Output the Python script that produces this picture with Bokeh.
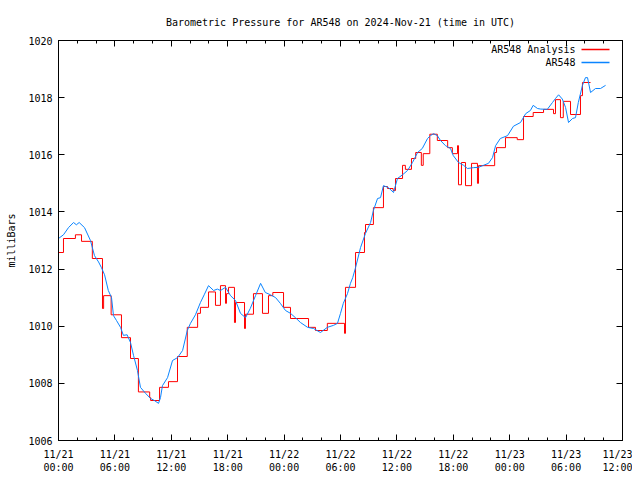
from bokeh.plotting import figure
from bokeh.models import Range1d, FixedTicker, LinearAxis, Label, Arrow
from bokeh.embed import file_html
from bokeh.resources import INLINE

FONT = "DejaVu Sans Mono"

title_text = "Barometric Pressure for AR548 on 2024-Nov-21 (time in UTC)"

# x axis: hours since 2024-11-21 00:00 UTC
tick_hours = [0, 6, 12, 18, 24, 30, 36, 42, 48, 54, 60]
tick_labels = ["11/21\n00:00", "11/21\n06:00", "11/21\n12:00", "11/21\n18:00",
               "11/22\n00:00", "11/22\n06:00", "11/22\n12:00", "11/22\n18:00",
               "11/23\n00:00", "11/23\n06:00", "11/23\n12:00"]
minor_hours = [h for h in range(0, 61, 2) if h % 6 != 0]
y_ticks = [1006, 1008, 1010, 1012, 1014, 1016, 1018, 1020]

# AR548 Analysis (red, stepped)
red_hours = [0.0, 0.53, 1.8, 2.45, 3.6, 4.68, 4.8, 5.6, 6.7, 7.66,
             8.5, 9.7, 9.8, 10.75, 11.7, 12.66, 13.7, 14.8, 15.1, 15.96,
             16.7, 17.23, 17.77, 17.87, 18.09, 18.72, 18.83, 19.79, 19.89, 20.74,
             21.7, 22.34, 22.8, 23.94, 24.68, 26.6, 27.34, 28.6, 30.43, 30.53,
             31.6, 32.55, 32.66, 33.5, 34.57, 35.0, 35.6, 35.85, 36.6, 36.9,
             37.55, 38.0, 38.6, 38.8, 39.5, 40.3, 41.4, 41.9, 42.45, 42.55,
             42.87, 43.3, 43.94, 44.57, 44.68, 46.4, 46.6, 47.55, 48.8, 49.47,
             50.5, 51.6, 52.66, 52.87, 53.4, 53.7, 54.47, 55.53, 55.74, 56.6]
red_vals = [1012.58, 1013.07, 1013.2, 1012.97, 1012.37, 1010.62, 1011.07, 1010.4, 1009.6, 1008.87,
            1007.7, 1007.5, 1007.4, 1007.86, 1008.06, 1008.94, 1009.96, 1010.45, 1010.66, 1011.2,
            1010.73, 1011.42, 1010.8, 1011.14, 1011.36, 1010.13, 1010.83, 1009.92, 1010.42, 1011.14,
            1010.45, 1011.07, 1011.18, 1010.66, 1010.27, 1009.96, 1009.85, 1010.1, 1009.75, 1011.36,
            1012.58, 1013.28, 1013.56, 1014.15, 1014.89, 1014.82, 1014.75, 1015.17, 1015.63, 1015.49,
            1015.87, 1016.08, 1015.63, 1016.04, 1016.72, 1016.5, 1016.25, 1016.04, 1016.32, 1014.95,
            1015.73, 1014.92, 1015.7, 1015.0, 1015.62, 1016.08, 1016.25, 1016.6, 1016.53, 1017.34,
            1017.48, 1017.59, 1017.44, 1017.93, 1017.3, 1017.87, 1017.41, 1018.07, 1018.53, 1018.53]

# AR548 observations (blue)
blue_hours = [0.0, 0.53, 1.06, 1.6, 1.9, 2.2, 2.77, 3.4, 3.83, 4.26,
              4.57, 4.9, 5.3, 5.64, 5.85, 6.17, 6.6, 6.9, 7.3, 7.66,
              7.98, 8.4, 8.72, 9.26, 9.8, 10.2, 10.64, 10.85, 11.06, 11.6,
              12.13, 12.66, 13.2, 13.7, 14.04, 14.57, 15.1, 15.5, 15.96, 16.5,
              16.9, 17.23, 17.77, 18.3, 18.83, 19.36, 19.9, 20.4, 20.96, 21.5,
              22.0, 22.55, 23.1, 23.6, 24.15, 24.68, 25.2, 25.74, 26.5, 27.13,
              27.87, 28.6, 29.26, 29.68, 30.0, 30.3, 30.74, 31.06, 31.3, 31.6,
              32.13, 32.66, 33.2, 33.5, 33.94, 34.26, 34.57, 35.1, 35.64, 36.06,
              36.6, 37.13, 37.66, 38.2, 38.7, 39.26, 39.57, 39.9, 40.3, 40.64,
              41.17, 41.7, 42.0, 42.55, 43.1, 43.5, 44.15, 44.68, 45.2, 45.74,
              46.17, 46.5, 47.0, 47.77, 48.4, 49.15, 49.7, 50.2, 50.5, 50.96,
              51.3, 52.0, 52.55, 52.87, 53.2, 53.6, 53.94, 54.26, 54.68, 55.0,
              55.3, 55.74, 56.06, 56.28, 56.6, 57.13, 57.66, 58.2]
blue_vals = [1013.07, 1013.2, 1013.45, 1013.63, 1013.55, 1013.63, 1013.45, 1013.0, 1012.47, 1012.25,
             1012.05, 1011.8, 1011.25, 1011.0, 1010.37, 1010.2, 1009.96, 1009.68, 1009.7, 1009.43,
             1008.98, 1008.45, 1007.86, 1007.65, 1007.47, 1007.4, 1007.3, 1007.5, 1007.92, 1008.2,
             1008.8, 1008.9, 1009.15, 1009.85, 1010.1, 1010.4, 1010.83, 1011.1, 1011.42, 1011.25,
             1011.3, 1011.25, 1011.36, 1011.07, 1010.9, 1010.45, 1010.3, 1010.62, 1011.07, 1011.5,
             1011.18, 1011.1, 1011.0, 1010.8, 1010.55, 1010.45, 1010.3, 1010.13, 1009.96, 1009.92,
             1009.78, 1009.96, 1010.03, 1010.1, 1010.45, 1010.8, 1011.14, 1011.5, 1011.7, 1012.05,
             1012.75, 1013.25, 1013.63, 1014.05, 1014.47, 1014.5, 1014.92, 1014.85, 1014.68, 1015.17,
             1015.3, 1015.45, 1015.73, 1016.08, 1016.22, 1016.57, 1016.67, 1016.74, 1016.67, 1016.5,
             1016.32, 1016.22, 1015.97, 1015.73, 1015.63, 1015.52, 1015.55, 1015.56, 1015.63, 1015.7,
             1015.9, 1016.32, 1016.57, 1016.67, 1017.0, 1017.13, 1017.44, 1017.55, 1017.73, 1017.62,
             1017.6, 1017.59, 1017.83, 1017.97, 1018.1, 1017.95, 1017.66, 1017.13, 1017.27, 1017.3,
             1017.83, 1018.43, 1018.7, 1018.7, 1018.18, 1018.32, 1018.32, 1018.43]

series_names = ["AR548 Analysis", "AR548"]
series_colors = ["#ff0000", "#0a84ff"]

p = figure(frame_width=564, frame_height=400,
           x_range=Range1d(0, 60), y_range=Range1d(1006, 1020),
           output_backend="svg", toolbar_location=None,
           min_border_left=58, min_border_right=10,
           min_border_top=40, min_border_bottom=32,
           background_fill_color="white", border_fill_color="white")

p.title.text = title_text
p.title.text_font = FONT
p.title.text_font_size = "10px"
p.title.text_font_style = "normal"
p.title.align = "center"
p.title.text_color = "black"
p.title.standoff = 26

p.grid.visible = False
p.outline_line_color = "black"
p.outline_line_width = 1
p.outline_line_alpha = 1

def style_axis(ax, labels=True):
    ax.axis_line_color = "black"
    ax.major_tick_in = 6
    ax.major_tick_out = 0
    ax.minor_tick_in = 3
    ax.minor_tick_out = 0
    ax.major_tick_line_color = "black"
    ax.minor_tick_line_color = "black"
    ax.major_label_text_font = FONT
    if labels:
        ax.major_label_text_font_size = "10px"
        ax.major_label_text_color = "black"
    else:
        ax.major_label_text_font_size = "0px"
        ax.major_label_text_color = None

p.xaxis.ticker = FixedTicker(ticks=tick_hours, minor_ticks=minor_hours)
p.xaxis.major_label_overrides = {h: lab for h, lab in zip(tick_hours, tick_labels)}
p.yaxis.ticker = FixedTicker(ticks=y_ticks, minor_ticks=[])
for ax in p.xaxis + p.yaxis:
    style_axis(ax)
p.xaxis.major_label_standoff = 8
p.yaxis.major_label_standoff = 6
p.yaxis.axis_label = "milliBars"
p.yaxis.axis_label_text_font = FONT
p.yaxis.axis_label_text_font_size = "10px"
p.yaxis.axis_label_text_font_style = "normal"
p.yaxis.axis_label_text_color = "black"
p.yaxis.axis_label_standoff = 8

top_ax = LinearAxis(ticker=FixedTicker(ticks=tick_hours, minor_ticks=minor_hours),
                    major_label_standoff=0)
right_ax = LinearAxis(ticker=FixedTicker(ticks=y_ticks, minor_ticks=[]),
                      major_label_standoff=0)
style_axis(top_ax, labels=False)
style_axis(right_ax, labels=False)
p.add_layout(top_ax, "above")
p.add_layout(right_ax, "right")

p.step(red_hours, red_vals, mode="after", line_color=series_colors[0], line_width=1)
p.line(blue_hours, blue_vals, line_color=series_colors[1], line_width=1)

# key (gnuplot style: text, then line sample), frame-relative screen units
for name, color, ypos in zip(series_names, series_colors, [391, 378]):
    p.add_layout(Label(x=517, y=ypos, x_units="screen", y_units="screen", text=name,
                       text_align="right", text_baseline="middle",
                       text_font=FONT, text_font_size="10px", text_color="black"))
    p.add_layout(Arrow(end=None, x_start=523, y_start=ypos, x_end=551, y_end=ypos,
                       start_units="screen", end_units="screen",
                       line_color=color, line_width=1.5))

open("out.html", "w").write(file_html(p, INLINE))
